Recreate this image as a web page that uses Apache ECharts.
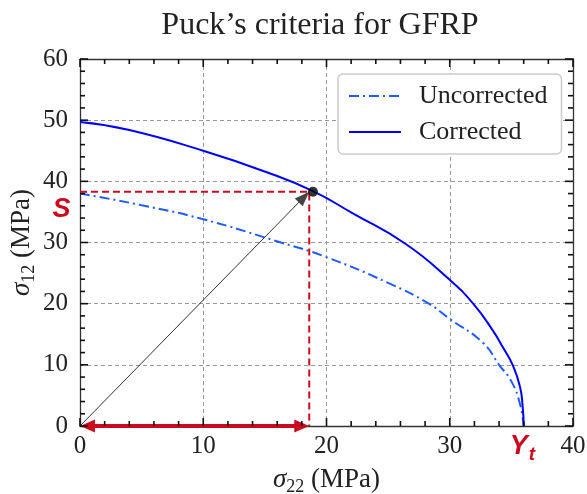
<!DOCTYPE html>
<html><head><meta charset="utf-8">
<script src="https://cdn.jsdelivr.net/npm/echarts@6/dist/echarts.min.js"></script>
<style>html,body{margin:0;padding:0;background:#fff}#c{width:587px;height:494px}</style>
</head><body><div id="c"></div>
<script>
// ---- data ----
const titleText = 'Puck\u2019s criteria for GFRP';
const seriesNames = ['Uncorrected', 'Corrected'];
const xTicks = [0, 10, 20, 30, 40];
const yTicks = [0, 10, 20, 30, 40, 50, 60];
const minorPerMajor = 5;
const uncX = [0, 5, 10, 16.3, 20, 25, 28.3, 30, 32.7, 34.0, 35.0, 35.7, 36.0];
const uncY = [38.0, 36.1, 33.8, 30.0, 27.6, 23.4, 20.0, 17.5, 13.6, 10.0, 7.3, 3.6, 0];
const corrX = [0, 4, 10, 15, 18.9, 22.1, 26.4, 30, 31.9, 33.5, 34.3, 35.1, 35.7, 35.92, 36.0];
const corrY = [49.7, 48.4, 45.0, 41.6, 38.4, 34.8, 29.8, 23.9, 20.0, 15.6, 12.9, 10.0, 6.4, 3.1, 0];
const failurePoint = [18.9, 38.3];
const projCorner = [18.6, 38.3];
const labelS = [-1.5, 35.4];
const labelYt = [35.6, -3.4];

const serif = '"Liberation Serif", "DejaVu Serif", serif';
const sans = '"Liberation Sans", "DejaVu Sans", sans-serif';
const red = '#cc0a1e';
const xMin = xTicks[0], xMax = xTicks[xTicks.length - 1];
const yMin = yTicks[0], yMax = yTicks[yTicks.length - 1];

function head(tip, dir, len, wid) {
  const bx = tip[0] - dir[0] * len, by = tip[1] - dir[1] * len;
  const nx = -dir[1], ny = dir[0];
  return [[tip[0], tip[1]], [bx + nx * wid / 2, by + ny * wid / 2], [bx - nx * wid / 2, by - ny * wid / 2]];
}
function arrowSeries(name, from, to, opt) {
  return {
    type: 'custom', name: name, z: 5, silent: true,
    data: [[from[0], from[1], to[0], to[1]]],
    renderItem: function (params, api) {
      const a = api.coord([api.value(0), api.value(1)]);
      const b = api.coord([api.value(2), api.value(3)]);
      const dx = b[0] - a[0], dy = b[1] - a[1];
      const L = Math.sqrt(dx * dx + dy * dy);
      const d = [dx / L, dy / L];
      const s = opt.both ? [a[0] + d[0] * opt.len * 0.8, a[1] + d[1] * opt.len * 0.8] : a;
      const e = [b[0] - d[0] * opt.len * 0.8, b[1] - d[1] * opt.len * 0.8];
      const children = [{
        type: 'line', shape: { x1: s[0], y1: s[1], x2: e[0], y2: e[1] },
        style: { stroke: opt.lineColor, lineWidth: opt.width }
      }, {
        type: 'polygon', shape: { points: head(b, d, opt.len, opt.wid) },
        style: { fill: opt.headColor }
      }];
      if (opt.both) {
        children.push({ type: 'polygon', shape: { points: head(a, [-d[0], -d[1]], opt.len, opt.wid) }, style: { fill: opt.headColor } });
      }
      return { type: 'group', children: children };
    }
  };
}
function textSeries(name, pos, main, sub) {
  return {
    type: 'custom', name: name, z: 6, silent: true,
    data: [pos],
    renderItem: function (params, api) {
      const c = api.coord([api.value(0), api.value(1)]);
      const children = [{
        type: 'text', x: c[0], y: c[1],
        style: { text: main, fill: red, font: 'italic bold 27px ' + sans, align: 'center', verticalAlign: 'middle' }
      }];
      if (sub) {
        children.push({
          type: 'text', x: c[0] + 10, y: c[1] + 8,
          style: { text: sub, fill: red, font: 'italic bold 19px ' + sans, align: 'left', verticalAlign: 'middle' }
        });
      }
      return { type: 'group', children: children };
    }
  };
}
// tick marks (major + minor, pointing inward) on all four sides, placed through the axis scales
function tickValues(ticks) {
  const out = [];
  for (let i = 0; i < ticks.length; i++) {
    out.push([ticks[i], 1]);
    if (i < ticks.length - 1) {
      const step = (ticks[i + 1] - ticks[i]) / minorPerMajor;
      for (let k = 1; k < minorPerMajor; k++) out.push([ticks[i] + k * step, 0]);
    }
  }
  return out;
}
const tickData = [];
tickValues(xTicks).forEach(t => { tickData.push([t[0], yMin, 0, t[1]]); tickData.push([t[0], yMax, 1, t[1]]); });
tickValues(yTicks).forEach(t => { tickData.push([xMin, t[0], 2, t[1]]); tickData.push([xMax, t[0], 3, t[1]]); });
const tickSeries = {
  type: 'custom', name: 'ticks', z: 20, silent: true, clip: false,
  data: tickData,
  renderItem: function (params, api) {
    const p = api.coord([api.value(0), api.value(1)]);
    const side = api.value(2), L = api.value(3) === 1 ? 8 : 5;
    let q;
    if (side === 0) q = [p[0], p[1] - L];
    else if (side === 1) q = [p[0], p[1] + L];
    else if (side === 2) q = [p[0] + L, p[1]];
    else q = [p[0] - L, p[1]];
    return {
      type: 'line', z2: 100,
      shape: { x1: p[0], y1: p[1], x2: q[0], y2: q[1] },
      style: { stroke: '#111', lineWidth: 1.6 }
    };
  }
};

function nameRich() {
  return {
    s: { fontFamily: serif, fontSize: 27, fontStyle: 'italic', color: '#222', lineHeight: 32 },
    sub: { fontFamily: serif, fontSize: 18, color: '#222', lineHeight: 18, verticalAlign: 'bottom' },
    t: { fontFamily: serif, fontSize: 27, color: '#222', lineHeight: 32 }
  };
}
const axisLineCfg = { show: true, onZero: false, lineStyle: { color: '#333', width: 1.3 } };
function xAx(pos, main) {
  return {
    type: 'value', position: pos,
    min: xMin, max: xMax, interval: xTicks[1] - xTicks[0],
    axisLine: axisLineCfg, axisTick: { show: false }, minorTick: { show: false },
    axisLabel: { show: main, margin: 8, fontFamily: serif, fontSize: 25, color: '#222' },
    splitLine: { show: main, lineStyle: { color: '#999', type: [4, 3], width: 1 } },
    name: main ? '{s|\u03c3}{sub|22}{t| (MPa)}' : '',
    nameLocation: 'middle', nameGap: 38, nameMoveOverlap: false,
    nameTextStyle: { rich: nameRich() }
  };
}
function yAx(pos, main) {
  return {
    type: 'value', position: pos,
    min: yMin, max: yMax, interval: yTicks[1] - yTicks[0],
    axisLine: axisLineCfg, axisTick: { show: false }, minorTick: { show: false },
    axisLabel: { show: main, margin: 12, padding: [8, 0, 0, 0], fontFamily: serif, fontSize: 25, color: '#222' },
    splitLine: { show: main, lineStyle: { color: '#999', type: [4, 3], width: 1 } },
    name: main ? '{s|\u03c3}{sub|12}{t| (MPa)}' : '',
    nameLocation: 'middle', nameGap: 42, nameMoveOverlap: false,
    nameTextStyle: { rich: nameRich() }
  };
}

const chart = echarts.init(document.getElementById('c'), null, { renderer: 'canvas' });
chart.setOption({
  animation: false,
  backgroundColor: '#fff',
  title: {
    text: titleText, left: 320, top: 10, textAlign: 'center', padding: 0,
    textStyle: { fontFamily: serif, fontSize: 32, fontWeight: 'normal', color: '#222' }
  },
  grid: { left: 80, top: 59, right: 14, bottom: 68, containLabel: false, outerBoundsMode: 'none' },
  legend: {
    data: seriesNames, orient: 'vertical', left: 338, top: 74,
    padding: [9, 14, 9, 10], itemWidth: 52, itemHeight: 14, itemGap: 10,
    itemStyle: { opacity: 0 },
    textStyle: { fontFamily: serif, fontSize: 26, color: '#222', padding: [0, 0, 0, 13] },
    backgroundColor: '#fff', borderColor: '#ccc', borderWidth: 1.5, borderRadius: 5
  },
  xAxis: [xAx('bottom', true), xAx('top', false)],
  yAxis: [yAx('left', true), yAx('right', false)],
  series: [
    {
      name: seriesNames[0], type: 'line', symbol: 'none', smooth: 0.5, z: 3,
      data: uncX.map((x, i) => [x, uncY[i]]),
      color: '#1f5bff', lineStyle: { color: '#1f5bff', width: 2, type: [10, 4, 2, 4] }
    },
    {
      name: seriesNames[1], type: 'line', symbol: 'none', smooth: 0.5, z: 3,
      data: corrX.map((x, i) => [x, corrY[i]]),
      color: '#0000ff', lineStyle: { color: '#0000ff', width: 2 }
    },
    {
      name: 'projection', type: 'line', symbol: 'none', z: 4,
      data: [[0, projCorner[1]], [projCorner[0], projCorner[1]], [projCorner[0], 0]],
      lineStyle: { color: red, width: 2, type: [7, 4] }
    },
    arrowSeries('vector', [0, 0], projCorner, { lineColor: '#333', width: 1, headColor: '#444', len: 15, wid: 11, both: false }),
    arrowSeries('span', [0, 0], [projCorner[0], 0], { lineColor: red, width: 4, headColor: red, len: 15, wid: 13, both: true }),
    {
      name: 'point', type: 'scatter', symbol: 'circle', symbolSize: 10, z: 7,
      data: [failurePoint], itemStyle: { color: '#000' }
    },
    textSeries('S', labelS, 'S', null),
    textSeries('Yt', labelYt, 'Y', 't'),
    tickSeries
  ]
});
</script></body></html>
